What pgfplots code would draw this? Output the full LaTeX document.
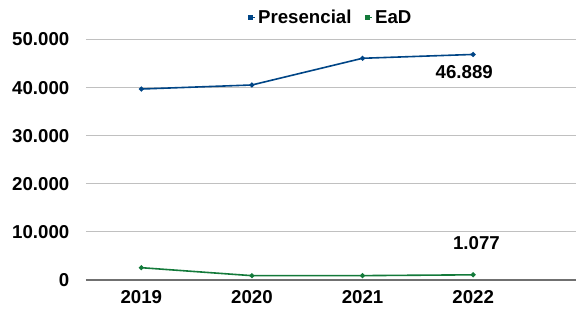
\documentclass[border=0pt]{standalone}
\usepackage{pgfplots}
\pgfplotsset{compat=1.18}
\usepackage{fontspec}
\setmainfont{Liberation Sans}
\definecolor{pres}{HTML}{004586}
\definecolor{ead}{HTML}{137A3A}
\definecolor{gridc}{HTML}{C0C0C0}
\definecolor{zero}{HTML}{707070}
\begin{document}
\begin{tikzpicture}
\useasboundingbox (0,0) rectangle (432pt,236.25pt);
\begin{axis}[
  at={(64.5pt,26.25pt)}, anchor=south west,
  scale only axis, width=367.5pt, height=180.4pt,
  xmin=-0.5, xmax=3.93, ymin=0, ymax=50000,
  xtick={0,1,2,3}, xticklabels={2019,2020,2021,2022},
  ytick={0,10000,20000,30000,40000,50000},
  yticklabels={0,10.000,20.000,30.000,40.000,50.000},
  scaled y ticks=false,
  axis line style={draw=none},
  tick style={draw=none},
  xmajorgrids=false, ymajorgrids=true,
  grid style={draw=gridc, line width=0.8pt},
  tick label style={font=\fontsize{14}{16}\selectfont\bfseries},
  yticklabel style={xshift=-9pt},
  xticklabel style={yshift=-4pt},
  legend columns=2,
  legend style={draw=none, fill=none, at={(0.5,1.035)}, anchor=south,
    font=\fontsize{14}{16}\selectfont\bfseries,
    /tikz/every even column/.append style={column sep=8pt}},
  legend image code/.code={\path (0pt,0pt) -- (4.5pt,0pt);\fill[#1] (0pt,-1.4pt) rectangle (2.8pt,1.4pt);},
  clip=false,
]
\draw[zero, line width=1pt] (axis cs:-0.5,0) -- (axis cs:3.93,0);
\addplot[pres, line width=1.2pt, mark=*, mark size=1.2pt] coordinates {(0,39700) (1,40540) (2,46090) (3,46889)};
\addlegendentry{Presencial}
\addplot[ead, line width=1.2pt, mark=*, mark size=1.2pt] coordinates {(0,2560) (1,900) (2,910) (3,1077)};
\addlegendentry{EaD}
\node[font=\fontsize{14}{16}\selectfont\bfseries] at (axis cs:2.92,43200) {46.889};
\node[font=\fontsize{14}{16}\selectfont\bfseries] at (axis cs:3.03,7700) {1.077};
\end{axis}
\end{tikzpicture}
\end{document}
